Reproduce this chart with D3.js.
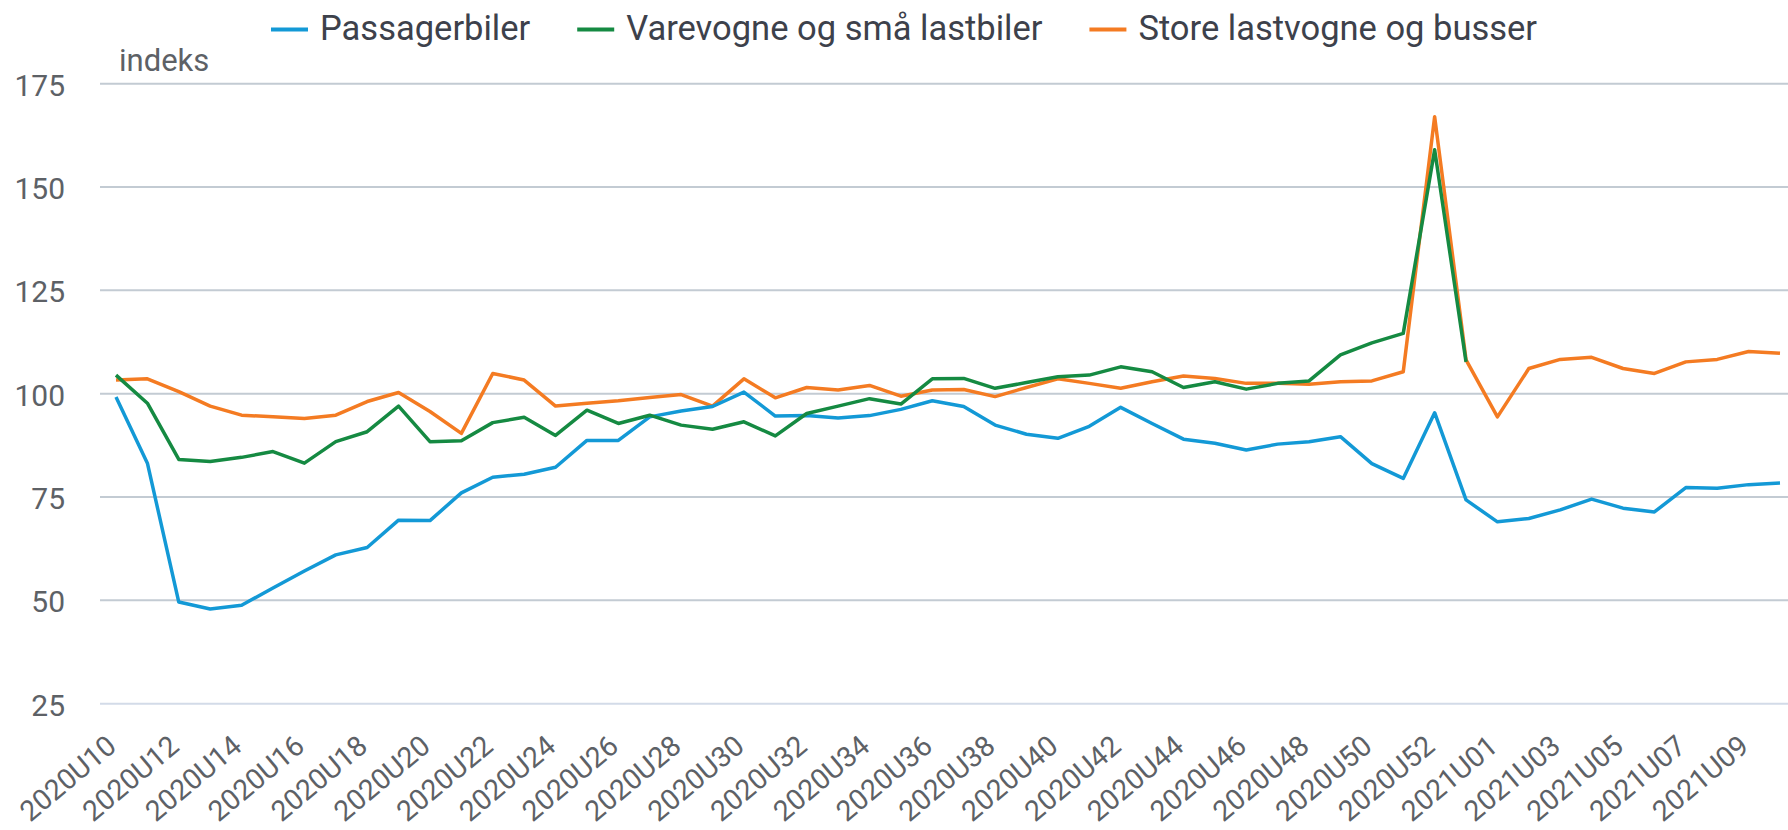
<!DOCTYPE html>
<html>
<head>
<meta charset="utf-8">
<script src="https://cdn.jsdelivr.net/npm/d3@7"></script>
<style>
  html, body { margin: 0; padding: 0; background: #fff; }
  svg { display: block; font-family: Roboto, "Noto Sans", sans-serif; }
</style>
</head>
<body>
<svg id="chart" width="1788" height="830"></svg>
<script>
const weeks = [
  "2020U10","2020U11","2020U12","2020U13","2020U14","2020U15","2020U16","2020U17","2020U18","2020U19",
  "2020U20","2020U21","2020U22","2020U23","2020U24","2020U25","2020U26","2020U27","2020U28","2020U29",
  "2020U30","2020U31","2020U32","2020U33","2020U34","2020U35","2020U36","2020U37","2020U38","2020U39",
  "2020U40","2020U41","2020U42","2020U43","2020U44","2020U45","2020U46","2020U47","2020U48","2020U49",
  "2020U50","2020U51","2020U52","2020U53","2021U01","2021U02","2021U03","2021U04","2021U05","2021U06",
  "2021U07","2021U08","2021U09","2021U10"
];
const labelledWeeks = [
  "2020U10","2020U12","2020U14","2020U16","2020U18","2020U20","2020U22","2020U24","2020U26","2020U28",
  "2020U30","2020U32","2020U34","2020U36","2020U38","2020U40","2020U42","2020U44","2020U46","2020U48",
  "2020U50","2020U52","2021U01","2021U03","2021U05","2021U07","2021U09"
];
const passagerbiler = [
  99.2, 83.2, 49.6, 47.9, 48.8, 53.0, 57.1, 61.0, 62.8, 69.4,
  69.3, 76.0, 79.8, 80.5, 82.2, 88.7, 88.7, 94.4, 95.8, 96.9,
  100.4, 94.6, 94.7, 94.1, 94.7, 96.2, 98.3, 96.9, 92.4, 90.2,
  89.2, 92.1, 96.7, 92.8, 89.0, 88.0, 86.4, 87.8, 88.4, 89.6,
  83.1, 79.5, 95.4, 74.3, 69.0, 69.8, 71.9, 74.5, 72.3, 71.4,
  77.3, 77.1, 78.0, 78.4
];
const varevogne = [
  104.5, 97.7, 84.1, 83.6, 84.6, 86.0, 83.2, 88.4, 90.8, 97.0,
  88.4, 88.6, 93.0, 94.3, 89.9, 96.0, 92.8, 94.8, 92.4, 91.4,
  93.2, 89.8, 95.2, 97.0, 98.8, 97.5, 103.6, 103.7, 101.3, 102.7,
  104.1, 104.5, 106.5, 105.3, 101.5, 102.9, 101.1, 102.5, 103.1, 109.4,
  112.3, 114.6, 159.0, 107.7, null, null, null, null, null, null,
  null, null, null, null
];
const storeLastvogne = [
  103.3, 103.6, 100.5, 97.0, 94.8, 94.4, 94.0, 94.8, 98.1, 100.3,
  95.7, 90.4, 104.9, 103.3, 97.0, 97.7, 98.3, 99.1, 99.8, 97.0,
  103.6, 99.0, 101.5, 100.9, 102.0, 99.4, 100.9, 101.0, 99.3, 101.5,
  103.6, 102.5, 101.3, 102.9, 104.3, 103.7, 102.5, 102.5, 102.3, 102.9,
  103.1, 105.3, 167.0, 108.2, 94.4, 106.1, 108.3, 108.8, 106.1, 104.9,
  107.7, 108.3, 110.2, 109.8
];
const yTicks = [25, 50, 75, 100, 125, 150, 175];
const seriesNames = ["Passagerbiler", "Varevogne og små lastbiler", "Store lastvogne og busser"];
const seriesColors = ["#1399d6", "#158a42", "#f47b22"];
const yTitle = "indeks";

const svg = d3.select("#chart");
svg.append("rect").attr("width", 1788).attr("height", 830).attr("fill", "#fff");

const x = d3.scalePoint().domain(weeks).range([116, 1780]);
const y = d3.scaleLinear().domain([25, 175]).range([703.7, 83.7]);
const plotLeft = 100, plotRight = 1788;

// gridlines
svg.append("g").selectAll("line").data(yTicks).join("line")
  .attr("x1", plotLeft).attr("x2", plotRight)
  .attr("y1", d => y(d)).attr("y2", d => y(d))
  .attr("stroke", d => d === 25 ? "#d3dbe8" : "#c3cbd3")
  .attr("stroke-width", 2);

// y axis labels
const yAxis = d3.axisLeft(y).tickValues(yTicks).tickSize(0).tickPadding(0);
const yg = svg.append("g").attr("transform", "translate(65,0)").call(yAxis);
yg.select(".domain").remove();
yg.selectAll("text").attr("font-size", 30).attr("fill", "#5d6166")
  .attr("font-family", "Roboto, sans-serif").attr("dy", "0.38em");

// y title
svg.append("text").attr("x", 119).attr("y", 71).attr("font-size", 31)
  .attr("fill", "#5d6166").text(yTitle);

// x axis labels
const xAxis = d3.axisBottom(x).tickValues(labelledWeeks).tickSize(0).tickPadding(0);
const xg = svg.append("g").call(xAxis);
xg.select(".domain").remove();
xg.selectAll(".tick").attr("transform", d => `translate(${x(d) + 2},749)`);
xg.selectAll("text")
  .attr("font-size", 28.5).attr("fill", "#5d6166").attr("font-family", "Roboto, sans-serif")
  .attr("text-anchor", "end").attr("dy", 0).attr("y", 0)
  .attr("transform", "rotate(-40)");

// lines
const line = d3.line()
  .defined(d => d != null)
  .x((d, i) => x(weeks[i]))
  .y(d => y(d));

const drawOrder = [2, 0, 1];
const allSeries = [passagerbiler, varevogne, storeLastvogne];
drawOrder.forEach(k => {
  svg.append("path").datum(allSeries[k])
    .attr("d", line)
    .attr("fill", "none")
    .attr("stroke", seriesColors[k])
    .attr("stroke-width", 3.5)
    .attr("stroke-linejoin", "round");
});

// legend
const legend = svg.append("g");
const lineLen = 37, lineGap = 12, itemGap = 47;
const items = seriesNames.map((name, k) => {
  const g = legend.append("g");
  g.append("line").attr("x1", 0).attr("x2", lineLen).attr("y1", 29.5).attr("y2", 29.5)
    .attr("stroke", seriesColors[k]).attr("stroke-width", 4);
  const t = g.append("text").attr("x", lineLen + lineGap).attr("y", 39.5)
    .attr("font-size", 34.5).attr("fill", "#3d414b").text(name);
  const w = lineLen + lineGap + t.node().getComputedTextLength();
  return { g, w };
});
const total = d3.sum(items, d => d.w) + itemGap * (items.length - 1);
let cx = 904 - total / 2;
items.forEach(it => {
  it.g.attr("transform", `translate(${cx},0)`);
  cx += it.w + itemGap;
});
</script>
</body>
</html>
